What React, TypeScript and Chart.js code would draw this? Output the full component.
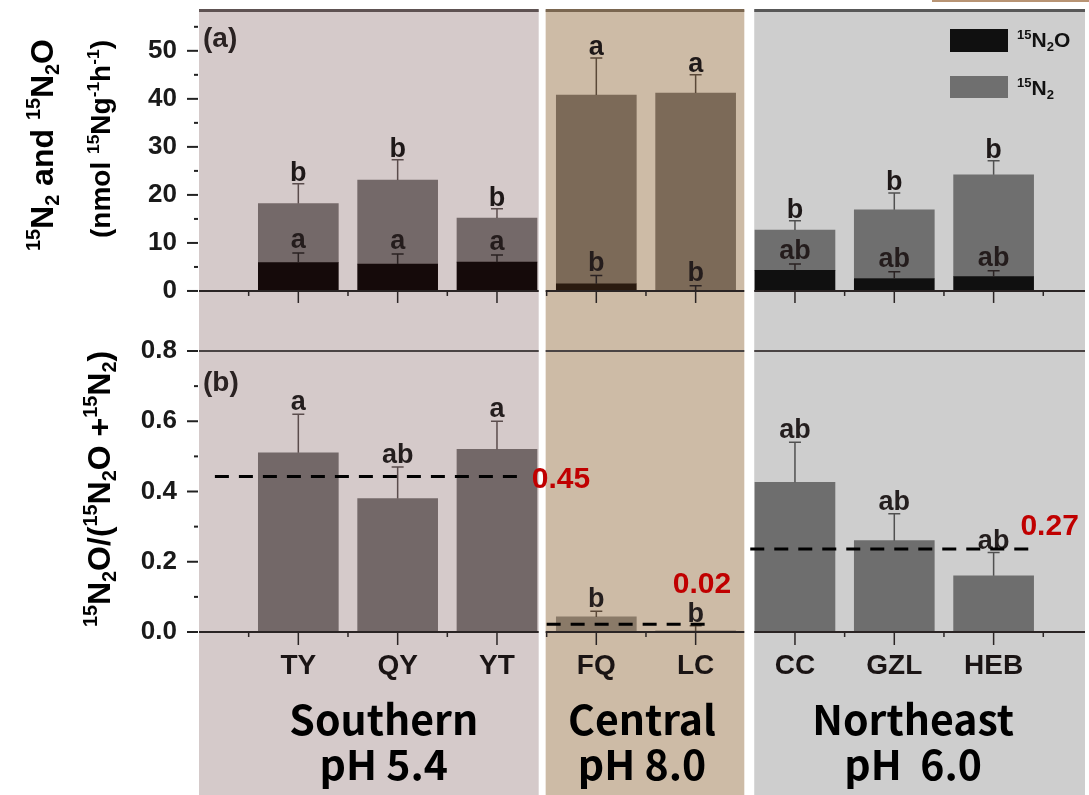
import React, { useEffect, useRef } from 'react';
import { Chart, registerables } from 'chart.js';

Chart.register(...registerables);

const W = 1089;
const H = 795;

// ---------------- data ----------------
const sites = ['TY', 'QY', 'YT', 'FQ', 'LC', 'CC', 'GZL', 'HEB'];
const siteRegion = [0, 0, 0, 1, 1, 2, 2, 2];
const regionNames = ['Southern', 'Central', 'Northeast'];
const regionPH = ['pH 5.4', 'pH 8.0', 'pH  6.0'];

// panel (a): rates, nmol 15N g-1 h-1
const n2oRate = [5.9, 5.6, 6.0, 1.5, 0.1, 4.3, 2.6, 3.0];
const n2oErr = [2.0, 2.1, 1.5, 1.7, 1.0, 1.3, 1.4, 1.2];
const n2Rate = [12.3, 17.5, 9.2, 39.3, 41.1, 8.4, 14.3, 21.2];
const totalErr = [4.1, 4.2, 1.9, 7.7, 3.8, 1.9, 3.5, 2.9];
const n2oLetters = ['a', 'a', 'a', 'b', 'b', 'ab', 'ab', 'ab'];
const totalLetters = ['b', 'b', 'b', 'a', 'a', 'b', 'b', 'b'];

// panel (b): 15N2O / (15N2O + 15N2)
const ratio = [0.51, 0.38, 0.52, 0.043, 0.003, 0.426, 0.26, 0.16];
const ratioErr = [0.11, 0.09, 0.08, 0.016, 0.015, 0.114, 0.077, 0.066];
const ratioLetters = ['a', 'ab', 'a', 'b', 'b', 'ab', 'ab', 'ab'];

// regional mean lines (as drawn) and their printed labels
const regionMeanLine = [0.443, 0.022, 0.236];
const regionMeanLabel = ['0.45', '0.02', '0.27'];

const rateTicks = [0, 10, 20, 30, 40, 50];
const rateMinorTicks = [5, 15, 25, 35, 45, 55];
const ratioTicks = [0, 0.2, 0.4, 0.6, 0.8];
const ratioMinorTicks = [0.1, 0.3, 0.5, 0.7];

// ---------------- styles ----------------
const FONT = '"Liberation Sans", Arial, sans-serif';
const CJK = '"Noto Sans CJK SC", "Noto Sans", sans-serif';
const regionSpan: [number, number][] = [[0, 3.42], [3.49, 5.49], [5.59, 8.92]];
const regionBg = ['#d5caca', '#cdbba6', '#cecece'];
const regionEdge = ['#5e5252', '#7a6650', '#585858'];
const n2Colors = ['#746969', '#7c6a58', '#6f6f6f'];
const n2oColors = ['#150a0a', '#2b1b10', '#101010'];
const ratioColors = ['#736868', '#8a7a68', '#6e6e6e'];
const errColors = ['#5a4c4c', '#5a4838', '#505050'];
const dashSpan: [number, number][] = [[0.16, 3.26], [3.5, 5.11], [5.55, 8.39]];
const meanLabelPos: [number, number][] = [[3.35, 12], [4.77, -31], [8.27, -14]];
const regionLabelCenter = [1.86, 4.46, 7.19];

type Seg = [string, number];

function segFont(size: number, k: number) {
  return `bold ${k ? size * 0.62 : size}px ${FONT}`;
}

function drawRich(ctx: CanvasRenderingContext2D, segs: Seg[], x: number, y: number, size: number, align: 'left' | 'center') {
  let w = 0;
  for (const [t, k] of segs) {
    ctx.font = segFont(size, k);
    w += ctx.measureText(t).width;
  }
  let cx = align === 'center' ? x - w / 2 : x;
  ctx.textAlign = 'left';
  ctx.textBaseline = 'alphabetic';
  for (const [t, k] of segs) {
    ctx.font = segFont(size, k);
    const dy = k === 1 ? -size * 0.4 : k === -1 ? size * 0.2 : 0;
    ctx.fillText(t, cx, y + dy);
    cx += ctx.measureText(t).width;
  }
}

function drawRotRich(ctx: CanvasRenderingContext2D, segs: Seg[], baseX: number, centerY: number, size: number) {
  ctx.save();
  ctx.translate(baseX, centerY);
  ctx.rotate(-Math.PI / 2);
  drawRich(ctx, segs, 0, 0, size, 'center');
  ctx.restore();
}

const decor = {
  id: 'decor',
  beforeDraw(chart: any) {
    const ctx: CanvasRenderingContext2D = chart.ctx;
    const xs = chart.scales.x;
    ctx.save();
    regionSpan.forEach(([a, b], r) => {
      const x0 = xs.getPixelForValue(a);
      const x1 = xs.getPixelForValue(b);
      ctx.fillStyle = regionBg[r];
      ctx.fillRect(x0, 10, x1 - x0, H - 10);
      ctx.fillStyle = regionEdge[r];
      ctx.fillRect(x0, 9, x1 - x0, 3);
    });
    ctx.fillStyle = '#b89474';
    ctx.fillRect(932, 0, W - 932, 2);
    ctx.restore();
  },
  afterDatasetsDraw(chart: any) {
    const ctx: CanvasRenderingContext2D = chart.ctx;
    const xs = chart.scales.x;
    const ya = chart.scales.ya;
    const yb = chart.scales.yb;
    const left = chart.chartArea.left;
    ctx.save();

    // horizontal axis lines per region
    const hAxis = (y: number, ticks: boolean, major: number, color: string) => {
      regionSpan.forEach(([a, b]) => {
        const x0 = xs.getPixelForValue(a);
        const x1 = xs.getPixelForValue(b);
        ctx.strokeStyle = color;
        ctx.lineWidth = 2;
        ctx.beginPath();
        ctx.moveTo(x0, y);
        ctx.lineTo(x1, y);
        ctx.stroke();
        if (!ticks) return;
        ctx.lineWidth = 1.5;
        for (let v = 0.5; v < 9; v += 0.5) {
          if (v <= a || v >= b) continue;
          const px = xs.getPixelForValue(v);
          const len = Number.isInteger(v) ? major : 5;
          ctx.beginPath();
          ctx.moveTo(px, y);
          ctx.lineTo(px, y + len);
          ctx.stroke();
        }
      });
    };
    hAxis(ya.getPixelForValue(0), true, 12, '#2a2424');
    hAxis(yb.getPixelForValue(0.8), false, 0, '#4a4444');
    hAxis(yb.getPixelForValue(0), true, 13, '#2a2424');

    // y ticks
    ctx.strokeStyle = '#222';
    ctx.lineWidth = 2;
    const yTick = (py: number, len: number) => {
      ctx.beginPath();
      ctx.moveTo(left - len, py);
      ctx.lineTo(left - 1, py);
      ctx.stroke();
    };
    rateTicks.forEach((v) => yTick(ya.getPixelForValue(v), 12));
    rateMinorTicks.forEach((v) => yTick(ya.getPixelForValue(v), 5));
    ratioTicks.forEach((v) => yTick(yb.getPixelForValue(v), 12));
    ratioMinorTicks.forEach((v) => yTick(yb.getPixelForValue(v), 5));

    // error bars + letters
    const barsA = chart.getDatasetMeta(0).data;
    const barsB = chart.getDatasetMeta(2).data;
    const err = (x: number, y0: number, y1: number, color: string) => {
      ctx.strokeStyle = color;
      ctx.lineWidth = 1.5;
      ctx.beginPath();
      ctx.moveTo(x, y0);
      ctx.lineTo(x, y1);
      ctx.moveTo(x - 6, y1);
      ctx.lineTo(x + 6, y1);
      ctx.stroke();
    };
    const letter = (t: string, x: number, y: number, color: string) => {
      ctx.fillStyle = color;
      ctx.font = `bold 27px ${FONT}`;
      ctx.textAlign = 'center';
      ctx.textBaseline = 'alphabetic';
      ctx.fillText(t, x, y);
    };
    sites.forEach((_, i) => {
      const r = siteRegion[i];
      const x = barsA[i].x;
      // N2O
      const y0 = ya.getPixelForValue(n2oRate[i]);
      const y1 = ya.getPixelForValue(n2oRate[i] + n2oErr[i]);
      err(x, y0, y1, '#2a2222');
      letter(n2oLetters[i], x, y1 - 5, '#241c1c');
      // total
      const tot = n2oRate[i] + n2Rate[i];
      const t0 = ya.getPixelForValue(tot);
      const t1 = ya.getPixelForValue(tot + totalErr[i]);
      err(x, t0, t1, errColors[r]);
      letter(totalLetters[i], x, t1 - 3, '#1e1818');
      // ratio
      const xb = barsB[i].x;
      const r0 = yb.getPixelForValue(ratio[i]);
      const r1 = yb.getPixelForValue(ratio[i] + ratioErr[i]);
      err(xb, r0, r1, errColors[r]);
      letter(ratioLetters[i], xb, r1 - 4, '#241e1e');
    });

    // regional mean dashed lines + labels
    regionMeanLine.forEach((m, g) => {
      const py = yb.getPixelForValue(m);
      ctx.strokeStyle = '#000';
      ctx.lineWidth = 3;
      ctx.setLineDash([14, 10]);
      ctx.beginPath();
      ctx.moveTo(xs.getPixelForValue(dashSpan[g][0]), py);
      ctx.lineTo(xs.getPixelForValue(dashSpan[g][1]), py);
      ctx.stroke();
      ctx.setLineDash([]);
      ctx.fillStyle = '#c00000';
      ctx.font = `bold 30px ${FONT}`;
      ctx.textAlign = 'left';
      ctx.textBaseline = 'alphabetic';
      ctx.fillText(regionMeanLabel[g], xs.getPixelForValue(meanLabelPos[g][0]), py + meanLabelPos[g][1]);
    });

    // legend
    ctx.fillStyle = n2oColors[2];
    ctx.fillRect(950, 29, 58, 23);
    ctx.fillStyle = n2Colors[2];
    ctx.fillRect(950, 76, 58, 22);
    ctx.fillStyle = '#111';
    drawRich(ctx, [['15', 1], ['N', 0], ['2', -1], ['O', 0]], 1017, 47, 21, 'left');
    drawRich(ctx, [['15', 1], ['N', 0], ['2', -1]], 1017, 95, 21, 'left');

    // panel labels
    ctx.fillStyle = '#2a2222';
    ctx.font = `bold 28px ${FONT}`;
    ctx.textAlign = 'left';
    ctx.fillText('(a)', 203, 47);
    ctx.fillText('(b)', 203, 391);

    // axis titles
    ctx.fillStyle = '#000';
    drawRotRich(ctx, [['15', 1], ['N', 0], ['2', -1], [' and ', 0], ['15', 1], ['N', 0], ['2', -1], ['O', 0]], 53, 145, 32);
    drawRotRich(ctx, [['(nmol ', 0], ['15', 1], ['Ng', 0], ['-1', 1], ['h', 0], ['-1', 1], [')', 0]], 110, 139, 28);
    drawRotRich(ctx, [['15', 1], ['N', 0], ['2', -1], ['O/(', 0], ['15', 1], ['N', 0], ['2', -1], ['O +', 0], ['15', 1], ['N', 0], ['2', -1], [')', 0]], 110, 489, 32);

    // region labels
    ctx.fillStyle = '#000';
    ctx.font = `bold 41px ${CJK}`;
    ctx.textAlign = 'center';
    regionNames.forEach((n, g) => {
      const cx = xs.getPixelForValue(regionLabelCenter[g]);
      ctx.fillText(n, cx, 735);
      ctx.fillText(regionPH[g], cx, 780);
    });
    ctx.restore();
  },
};

const tickFont = { family: FONT, size: 26, weight: 'bold' as const };
const hiddenGrid = (len: number) => ({
  display: true,
  drawOnChartArea: false,
  drawTicks: true,
  tickLength: len,
  offset: false,
  color: 'rgba(0,0,0,0)',
});
const noPad = (s: any) => {
  s.paddingTop = 0;
  s.paddingBottom = 0;
  s.paddingLeft = 0;
  s.paddingRight = 0;
};

export default function App() {
  const ref = useRef<HTMLCanvasElement>(null);
  useEffect(() => {
    document.body.style.margin = '0';
    const canvas = ref.current;
    if (!canvas) return;
    const xy = (arr: number[]) => arr.map((v, i) => ({ x: i + 1, y: v }));
    const chart = new Chart(canvas, {
      type: 'bar',
      data: {
        datasets: [
          {
            label: '15N2O',
            data: xy(n2oRate),
            yAxisID: 'ya',
            stack: 'a',
            grouped: false,
            barThickness: 80,
            backgroundColor: siteRegion.map((r) => n2oColors[r]),
          },
          {
            label: '15N2',
            data: xy(n2Rate),
            yAxisID: 'ya',
            stack: 'a',
            grouped: false,
            barThickness: 80,
            backgroundColor: siteRegion.map((r) => n2Colors[r]),
          },
          {
            label: 'ratio',
            data: xy(ratio),
            yAxisID: 'yb',
            stack: 'b',
            grouped: false,
            barThickness: 80,
            backgroundColor: siteRegion.map((r) => ratioColors[r]),
          },
        ],
      } as any,
      options: {
        responsive: false,
        animation: false,
        events: [],
        layout: { padding: { top: 10, right: 4, left: 0, bottom: 0 } },
        plugins: { legend: { display: false }, tooltip: { enabled: false } },
        scales: {
          x: {
            type: 'linear',
            offset: false,
            min: 0,
            max: 8.92,
            grid: hiddenGrid(12),
            border: { display: false },
            afterBuildTicks: (s: any) => {
              s.ticks = sites.map((_, i) => ({ value: i + 1 }));
            },
            afterFit: (s: any) => {
              s.height = 163;
              noPad(s);
            },
            ticks: {
              autoSkip: false,
              maxRotation: 0,
              padding: 5,
              color: '#1a1414',
              font: { family: FONT, size: 28, weight: 'bold' },
              callback: (v: any) => sites[Number(v) - 1] ?? '',
            },
          },
          ya: {
            type: 'linear',
            position: 'left',
            stack: 'v',
            stackWeight: 341,
            weight: 1,
            min: -12.5,
            max: 58.5,
            grid: hiddenGrid(12),
            border: { display: false },
            afterBuildTicks: (s: any) => {
              s.ticks = rateTicks.map((v) => ({ value: v }));
            },
            afterFit: (s: any) => {
              s.width = 199;
              noPad(s);
            },
            ticks: { padding: 10, color: '#1a1a1a', font: tickFont, callback: (v: any) => String(v) },
          },
          yb: {
            type: 'linear',
            position: 'left',
            stack: 'v',
            stackWeight: 281,
            weight: 0,
            min: 0,
            max: 0.8,
            grid: hiddenGrid(12),
            border: { display: false },
            afterBuildTicks: (s: any) => {
              s.ticks = ratioTicks.map((v) => ({ value: v }));
            },
            afterFit: (s: any) => {
              s.width = 199;
              noPad(s);
            },
            ticks: { padding: 10, color: '#1a1a1a', font: tickFont, callback: (v: any) => Number(v).toFixed(1) },
          },
        },
      } as any,
      plugins: [decor],
    });
    return () => chart.destroy();
  }, []);
  return (
    <div style={{ width: W, height: H, position: 'relative' }}>
      <canvas ref={ref} width={W} height={H} style={{ display: 'block', width: W, height: H }} />
    </div>
  );
}
